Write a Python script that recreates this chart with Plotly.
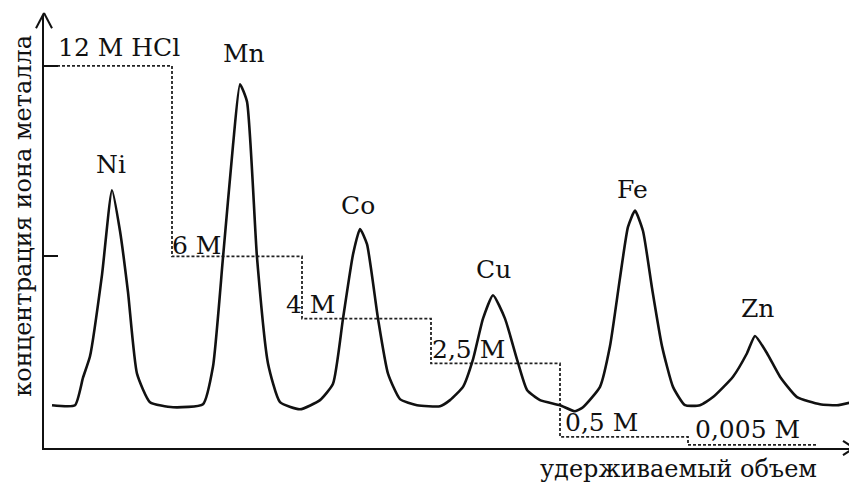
import plotly.graph_objects as go

# Elution curve (retention volume, metal-ion concentration), arbitrary units
volume = [0.8, 3.1, 3.9, 4.6, 5.8, 6.8, 7.6, 8.4, 9.3, 10.6, 12.9,
          15.9, 16.9, 17.9, 18.9, 19.6, 20.3, 21.3, 22.4, 23.6, 25.6,
          27.6, 28.9, 29.9, 30.9, 31.6, 32.3, 33.4, 34.4, 35.6, 37.3, 39.6,
          40.6, 41.9, 42.9, 43.9, 44.9, 46.1, 47.3, 48.3, 49.6, 51.6, 53.1,
          53.9, 55.6, 56.6, 57.6, 58.4, 59.1, 59.9, 60.8, 61.8, 62.9, 64.1, 65.6,
          66.9, 68.9, 70.3, 71.1, 72.3, 73.6, 75.3, 77.6, 79.3, 80.8]
concentration = [8.4, 8.4, 13.8, 18.0, 34.0, 50.6, 42.6, 30.6, 14.6, 9.0, 8.0,
                 8.6, 16.0, 37.4, 59.4, 71.4, 68.0, 37.4, 16.6, 9.0, 7.6,
                 9.4, 12.6, 25.4, 38.0, 43.0, 40.0, 25.4, 14.6, 9.6, 8.4, 8.2,
                 9.4, 12.0, 17.4, 25.4, 30.0, 25.4, 17.4, 11.4, 9.4, 8.4, 7.2,
                 8.0, 12.0, 20.0, 33.4, 43.4, 46.6, 42.6, 31.4, 20.0, 12.0, 8.4, 8.4,
                 10.0, 14.0, 18.6, 22.0, 18.6, 14.0, 10.0, 8.6, 8.4, 9.0]

# HCl eluent steps
step_start = [0.3, 12.8, 25.8, 38.7, 51.6, 64.4, 77.2]
step_level = [75.0, 37.6, 25.4, 16.6, 2.2, 0.6, 0.6]
step_labels = ["12 M HCl", "6 M", "4 M", "2,5 M", "0,5 M", "0,005 M"]
step_label_x = [1.2, 12.6, 24.0, 38.6, 51.9, 64.9]
step_label_y = [78.6, 39.8, 28.2, 19.4, 5.0, 3.6]

# Peak labels
peaks = ["Ni", "Mn", "Co", "Cu", "Fe", "Zn"]
peak_x = [6.7, 20.0, 31.4, 44.9, 58.8, 71.3]
peak_y = [55.6, 77.4, 47.6, 35.0, 50.8, 27.4]

FONT = "DejaVu Serif"
INK = "#111111"

fig = go.Figure()
fig.add_trace(go.Scatter(x=step_start, y=step_level, mode="lines",
                         line=dict(color="#222222", width=1.8, dash="3px,2px", shape="hv"),
                         hoverinfo="skip", showlegend=False))
fig.add_trace(go.Scatter(x=volume, y=concentration, mode="lines",
                         line=dict(color=INK, width=2.6, shape="spline", smoothing=0.5),
                         showlegend=False))

ann = []
for t, x, y in zip(peaks, peak_x, peak_y):
    ann.append(dict(x=x, y=y, text=t, showarrow=False, xanchor="center", yanchor="middle",
                    font=dict(family=FONT, size=25, color=INK)))
for t, x, y in zip(step_labels, step_label_x, step_label_y):
    ann.append(dict(x=x, y=y, text=t, showarrow=False, xanchor="left", yanchor="middle",
                    font=dict(family=FONT, size=25, color=INK)))

W, H = 809, 425
ann.append(dict(xref="paper", yref="paper", x=(678 - 44) / W, y=-(461 - 440) / H,
                text="удерживаемый объем",
                showarrow=False, xanchor="center", yanchor="middle",
                font=dict(family=FONT, size=24, color=INK)))
ann.append(dict(xref="paper", yref="paper", x=-(44 - 23) / W, y=(440 - 212) / H,
                text="концентрация иона металла",
                showarrow=False, xanchor="center", yanchor="middle", textangle=-90,
                font=dict(family=FONT, size=24, color=INK)))

shapes = [
    dict(type="line", xref="paper", yref="paper", x0=-8 / W, y0=1 - 13 / H, x1=0, y1=1 + 2 / H,
         line=dict(color=INK, width=2)),
    dict(type="line", xref="paper", yref="paper", x0=8 / W, y0=1 - 13 / H, x1=0, y1=1 + 2 / H,
         line=dict(color=INK, width=2)),
    dict(type="line", xref="paper", yref="paper", x0=1 - 10 / W, y0=7 / H, x1=1 + 1 / W, y1=0,
         line=dict(color=INK, width=2)),
    dict(type="line", xref="paper", yref="paper", x0=1 - 10 / W, y0=-7 / H, x1=1 + 1 / W, y1=0,
         line=dict(color=INK, width=2)),
]

# page body has an 8px margin, so the figure is 8px smaller and margins compensate
fig.update_layout(
    width=849, height=475,
    margin=dict(l=36, r=4, t=7, b=35),
    paper_bgcolor="white", plot_bgcolor="white",
    annotations=ann, shapes=shapes,
    xaxis=dict(range=[0, 80.9], showgrid=False, zeroline=False, showline=True,
               linecolor=INK, linewidth=2, showticklabels=False, ticks=""),
    yaxis=dict(range=[0, 85], showgrid=False, zeroline=False, showline=True,
               linecolor=INK, linewidth=2, showticklabels=False,
               tickvals=[step_level[0], step_level[1]], ticks="inside", ticklen=14,
               tickwidth=1.5, tickcolor=INK),
)

fig.write_html("out.html")
